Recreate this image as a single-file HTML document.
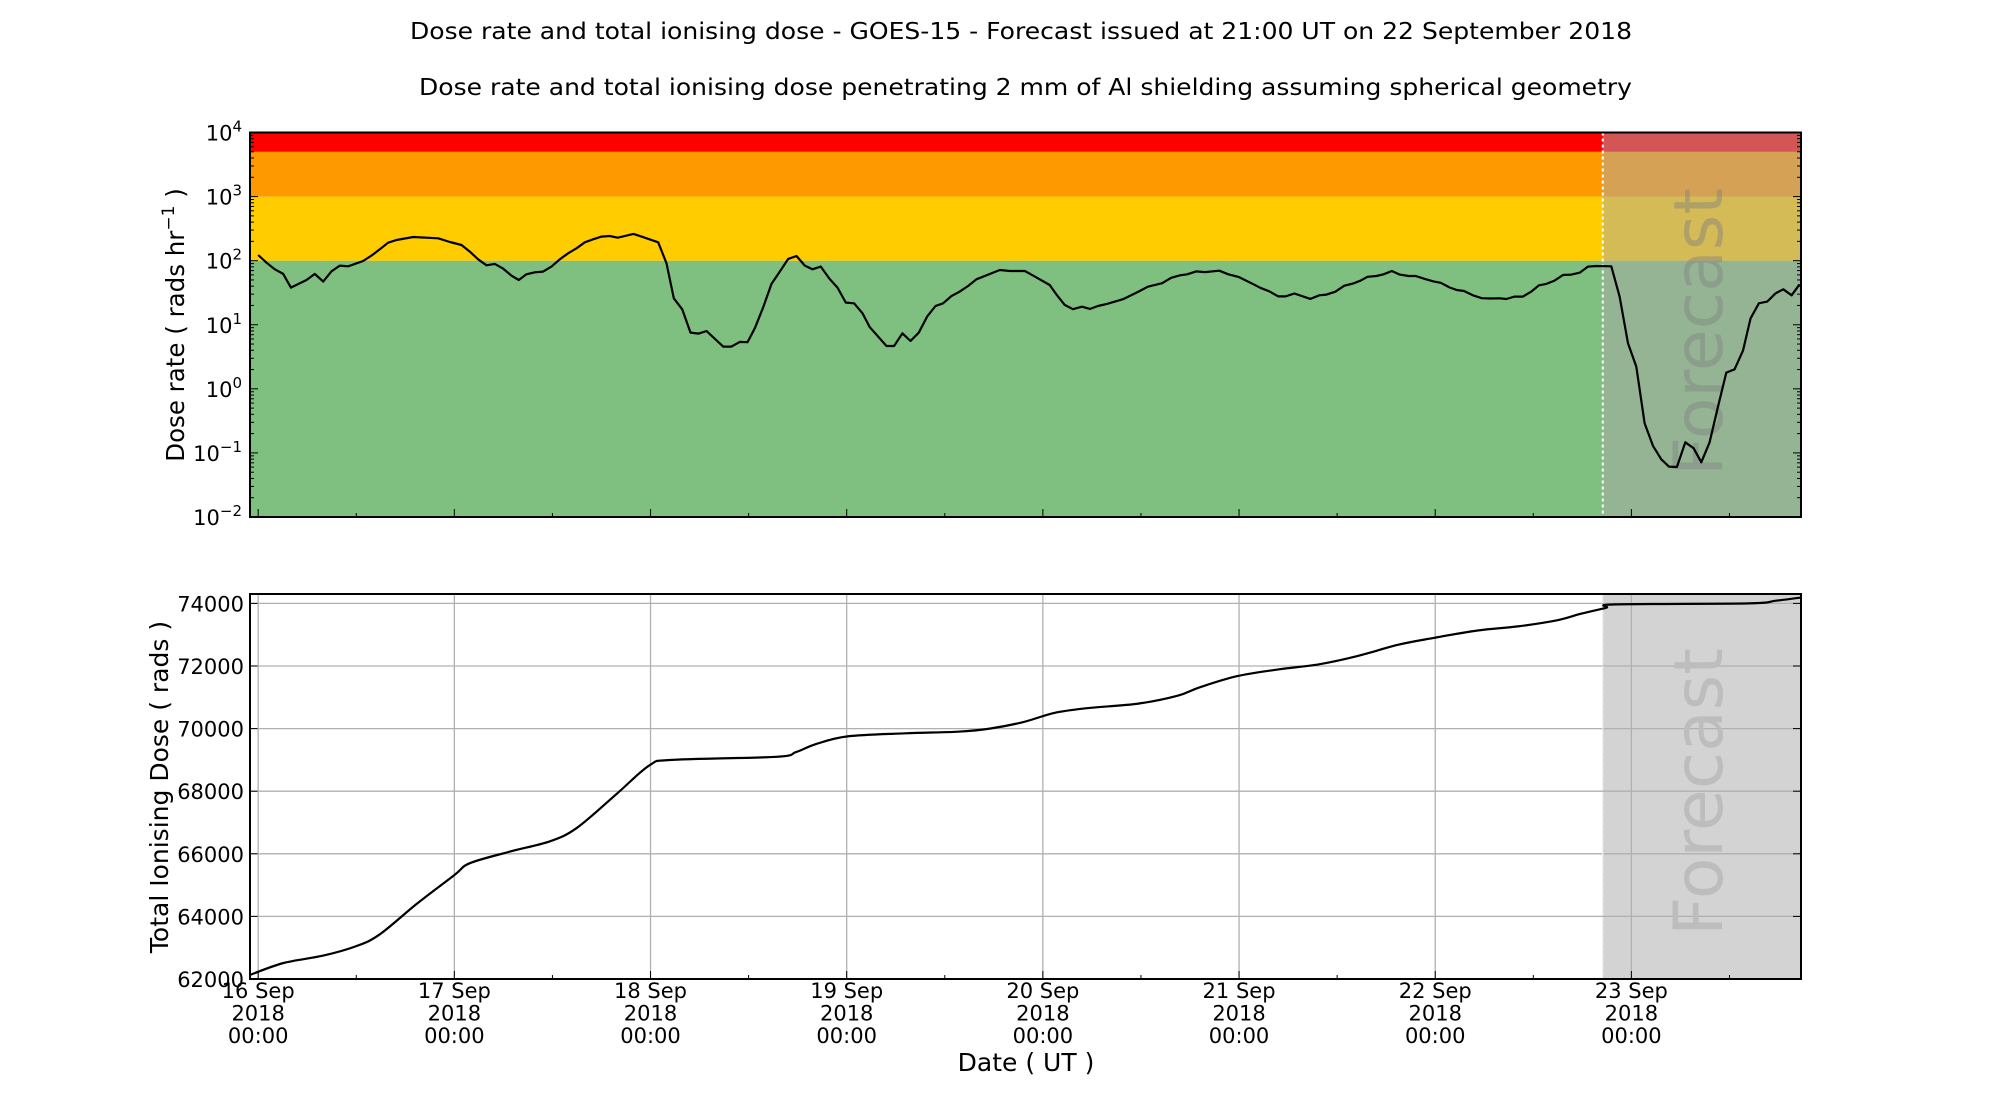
<!DOCTYPE html>
<html><head><meta charset="utf-8"><style>
html,body{margin:0;padding:0;background:#fff;}
svg{display:block;font-family:"DejaVu Sans","Liberation Sans",sans-serif;}
</style></head><body>
<svg id="chart" width="2000" height="1100" viewBox="0 0 2000 1100" xmlns="http://www.w3.org/2000/svg">
<text x="410" y="39" font-size="23" textLength="1222" lengthAdjust="spacingAndGlyphs">Dose rate and total ionising dose - GOES-15 - Forecast issued at 21:00 UT on 22 September 2018</text>
<text x="419" y="95" font-size="23" textLength="1213" lengthAdjust="spacingAndGlyphs">Dose rate and total ionising dose penetrating 2 mm of Al shielding assuming spherical geometry</text>
<g id="topPanel"></g>
<g id="botPanel"></g>
<text x="1026" y="1071" font-size="25" text-anchor="middle">Date ( UT )</text>
<text transform="translate(184,325) rotate(-90)" font-size="24.5" text-anchor="middle">Dose rate ( rads hr<tspan baseline-shift="super" font-size="17">−1</tspan> )</text>
<text transform="translate(168,787) rotate(-90)" font-size="25" text-anchor="middle">Total Ionising Dose ( rads )</text>
</svg>
<script>
// ---- data ----
const rateHours = [0,1.02,2.04,3.06,4.0,5.91,6.93,7.95,8.97,9.99,11.01,12.84,13.86,14.88,15.9,16.92,18.96,22.02,23.45,24.87,25.89,26.91,27.93,28.95,29.97,30.99,31.88,32.82,33.84,34.86,35.88,36.9,37.92,38.94,39.96,40.98,42.0,43.0,44.0,45.9,46.9,48.94,49.95,50.85,51.87,52.89,53.91,54.85,56.89,57.9,58.92,59.86,60.76,61.78,62.8,63.82,64.84,65.86,66.88,67.81,68.83,69.85,70.87,71.89,72.91,73.93,74.83,76.87,77.8,78.82,79.8,80.82,81.84,82.86,83.8,84.82,85.83,86.85,87.87,90.73,91.95,93.79,94.8,96.84,97.71,98.67,99.68,100.77,101.78,102.74,103.83,105.8,107.76,108.85,110.6,111.69,112.79,113.66,114.75,115.84,117.59,118.68,119.99,121.74,122.6,123.71,124.8,125.67,126.77,128.73,129.82,130.7,131.79,132.88,133.97,134.85,135.72,136.81,137.69,138.69,139.65,140.75,141.62,142.71,143.8,144.68,145.77,146.64,147.52,148.61,149.7,150.79,151.88,152.7,153.71,154.73,155.75,156.69,157.59,158.61,159.63,160.65,161.67,162.68,163.7,165.54,166.56,167.58,168.6,169.62,170.64,171.66,172.59,173.57,174.59,175.61,176.55,177.57,178.59,179.61,180.63,181.65,182.58,183.6,184.62,185.64,186.58,187.6,188.58];
const rateLog10 = [2.089,1.969,1.865,1.793,1.579,1.699,1.793,1.673,1.834,1.923,1.912,1.995,2.079,2.177,2.281,2.323,2.370,2.349,2.292,2.245,2.141,2.021,1.928,1.949,1.876,1.766,1.699,1.787,1.819,1.829,1.907,2.021,2.115,2.193,2.287,2.333,2.375,2.385,2.359,2.417,2.375,2.287,1.959,1.413,1.241,0.877,0.862,0.903,0.659,0.659,0.732,0.727,0.945,1.273,1.637,1.829,2.027,2.073,1.923,1.865,1.907,1.725,1.579,1.345,1.335,1.179,0.961,0.669,0.669,0.867,0.747,0.877,1.127,1.293,1.335,1.449,1.517,1.605,1.709,1.855,1.839,1.839,1.767,1.62,1.465,1.309,1.242,1.281,1.248,1.292,1.326,1.398,1.521,1.593,1.649,1.732,1.772,1.788,1.833,1.822,1.844,1.788,1.744,1.632,1.577,1.521,1.443,1.443,1.487,1.404,1.459,1.471,1.515,1.610,1.643,1.688,1.749,1.760,1.788,1.838,1.783,1.760,1.760,1.716,1.677,1.654,1.582,1.543,1.526,1.459,1.415,1.409,1.413,1.402,1.439,1.439,1.517,1.616,1.637,1.689,1.777,1.782,1.813,1.907,1.917,1.912,1.439,0.711,0.347,-0.537,-0.891,-1.099,-1.213,-1.219,-0.834,-0.927,-1.146,-0.834,-0.277,0.253,0.305,0.597,1.101,1.335,1.361,1.491,1.553,1.460,1.631];
const doseHours = [-1,3.1,7.9,12,14.9,19.4,24,25.9,30.8,35.7,39,43.8,47.9,50.7,63.4,65.8,68.2,72.1,79.2,85.6,89.5,93.5,97.4,101.4,107.7,112.5,115.2,119.8,124.9,129.8,134.6,139.5,143.9,149.2,154.1,158.9,161.9,164.9,166,182.3,185.7,189];
const doseValues = [62130,62510,62745,63050,63430,64400,65320,65700,66070,66400,66830,67900,68830,69000,69100,69250,69500,69750,69850,69900,70000,70200,70500,70650,70800,71050,71320,71676,71893,72055,72325,72680,72900,73135,73265,73460,73675,73860,73968,74000,74085,74195];
const dayLabels = ["16 Sep","17 Sep","18 Sep","19 Sep","20 Sep","21 Sep","22 Sep","23 Sep"];
const doseTicks = [62000,64000,66000,68000,70000,72000,74000];
const rateExps = [-2,-1,0,1,2,3,4];
const forecastHour = 164.5;

// ---- layout ----
const L=250,R=1801,T1=132.5,B1=517,T2=594,B2=979;
const H0=-1,H1=188.75;
const X=h=>L+(h-H0)/(H1-H0)*(R-L);
const Y1=lg=>B1-(lg+2)/6*(B1-T1);
const Y2=v=>B2-(v-62000)/(74300-62000)*(B2-T2);
const NS="http://www.w3.org/2000/svg";
function mk(p,tag,at,txt){const e=document.createElementNS(NS,tag);for(const k in at)e.setAttribute(k,at[k]);if(txt!==undefined)e.textContent=txt;p.appendChild(e);return e;}
const topG=document.getElementById('topPanel'),botG=document.getElementById('botPanel');
const xf=X(forecastHour);

// smooth path (Catmull-Rom) through points
function smooth(pts){let s='M'+pts[0][0].toFixed(1)+','+pts[0][1].toFixed(1);
for(let i=0;i<pts.length-1;i++){const p0=pts[Math.max(0,i-1)],p1=pts[i],p2=pts[i+1],p3=pts[Math.min(pts.length-1,i+2)];
const c1=[p1[0]+(p2[0]-p0[0])/6,p1[1]+(p2[1]-p0[1])/6],c2=[p2[0]-(p3[0]-p1[0])/6,p2[1]-(p3[1]-p1[1])/6];
s+='C'+c1.map(v=>v.toFixed(1)).join(',')+' '+c2.map(v=>v.toFixed(1)).join(',')+' '+p2[0].toFixed(1)+','+p2[1].toFixed(1);}
return s;}

// bands
const bands=[[-2,2,'#7fbf7f','green-band'],[2,3,'#ffcc00','yellow-band'],[3,Math.log10(5000),'#ff9900','orange-band'],[Math.log10(5000),4,'#ff0000','red-band']];
bands.forEach(b=>{const r=mk(topG,'rect',{x:L,y:Y1(b[1]),width:R-L,height:Y1(b[0])-Y1(b[1]),fill:b[2]});

});
let fr=mk(topG,'rect',{x:xf,y:T1,width:R-xf,height:B1-T1,fill:'#a9a9a9','fill-opacity':0.5});


let ft=mk(topG,'text',{transform:`translate(${(xf+R)/2+20},332) rotate(-90)`,'font-size':68,'text-anchor':'middle',fill:'#808080','fill-opacity':0.45},'Forecast');


let fl=mk(topG,'line',{x1:xf,y1:T1,x2:xf,y2:B1,stroke:'#fff','stroke-width':2,'stroke-dasharray':'3,3'});


let d='';rateHours.forEach((h,i)=>{d+=(i?'L':'M')+X(h).toFixed(1)+','+Y1(rateLog10[i]).toFixed(1);});
let rl=mk(topG,'path',{d:d,fill:'none',stroke:'#000','stroke-width':2.2,'stroke-linejoin':'round'});


// y ticks log
rateExps.forEach(e=>{const y=Y1(e);
mk(topG,'line',{x1:L,y1:y,x2:L+8,y2:y,stroke:'#000','stroke-width':1});
mk(topG,'line',{x1:R,y1:y,x2:R-8,y2:y,stroke:'#000','stroke-width':1});
const t=mk(topG,'text',{x:L-8,y:y+8,'font-size':21,'text-anchor':'end'});


mk(t,'tspan',{},'10');mk(t,'tspan',{dy:-9,'font-size':15},e<0?'−'+(-e):String(e));
if(e<4)for(let k=2;k<10;k++){const ym=Y1(e+Math.log10(k));
mk(topG,'line',{x1:L,y1:ym,x2:L+4,y2:ym,stroke:'#000','stroke-width':1});
mk(topG,'line',{x1:R,y1:ym,x2:R-4,y2:ym,stroke:'#000','stroke-width':1});}
});
// bottom panel
let br=mk(botG,'rect',{x:xf,y:T2,width:R-xf,height:B2-T2,fill:'#d3d3d3'});


doseTicks.forEach(v=>{const y=Y2(v);
mk(botG,'line',{x1:L,y1:y,x2:R,y2:y,stroke:'#b0b0b0','stroke-width':1.3});
mk(botG,'line',{x1:L,y1:y,x2:L+8,y2:y,stroke:'#000'});
mk(botG,'line',{x1:R,y1:y,x2:R-8,y2:y,stroke:'#000'});
const t=mk(botG,'text',{x:L-6,y:y+8,'font-size':21,'text-anchor':'end'},String(v));

});
dayLabels.forEach((lab,i)=>{const x=X(i*24);
mk(botG,'line',{x1:x,y1:T2,x2:x,y2:B2,stroke:'#b0b0b0','stroke-width':1.3});
[B1,B2].forEach(b=>mk(botG,'line',{x1:x,y1:b,x2:x,y2:b-8,stroke:'#000'}));
[B1,B2].forEach(b=>{const xm=X(i*24+12);if(xm<R)mk(botG,'line',{x1:xm,y1:b,x2:xm,y2:b-4,stroke:'#000'});});
const t=mk(botG,'text',{x:x,y:998,'font-size':21,'text-anchor':'middle'});


mk(t,'tspan',{x:x,dy:0},lab);mk(t,'tspan',{x:x,dy:22.5},'2018');mk(t,'tspan',{x:x,dy:22.5},'00:00');});
let ft2=mk(botG,'text',{transform:`translate(${(xf+R)/2+20},792) rotate(-90)`,'font-size':68,'text-anchor':'middle',fill:'#bdbdbd'},'Forecast');


mk(botG,'line',{x1:xf,y1:T2,x2:xf,y2:B2,stroke:'#eee','stroke-width':1.5,'stroke-dasharray':'3,3'});
const dpts=doseHours.map((h,i)=>[X(h),Y2(doseValues[i])]);
let dl=mk(botG,'path',{d:smooth(dpts),fill:'none',stroke:'#000','stroke-width':2.2,'stroke-linejoin':'round'});


let cp=mk(botG,'clipPath',{id:'bclip'});mk(cp,'rect',{x:L,y:T2,width:R-L,height:B2-T2});
dl.setAttribute('clip-path','url(#bclip)');
[[T1,B1,topG],[T2,B2,botG]].forEach(a=>{const f=mk(a[2],'rect',{x:L,y:a[0],width:R-L,height:a[1]-a[0],fill:'none',stroke:'#000','stroke-width':2});

});
</script>
</body></html>
